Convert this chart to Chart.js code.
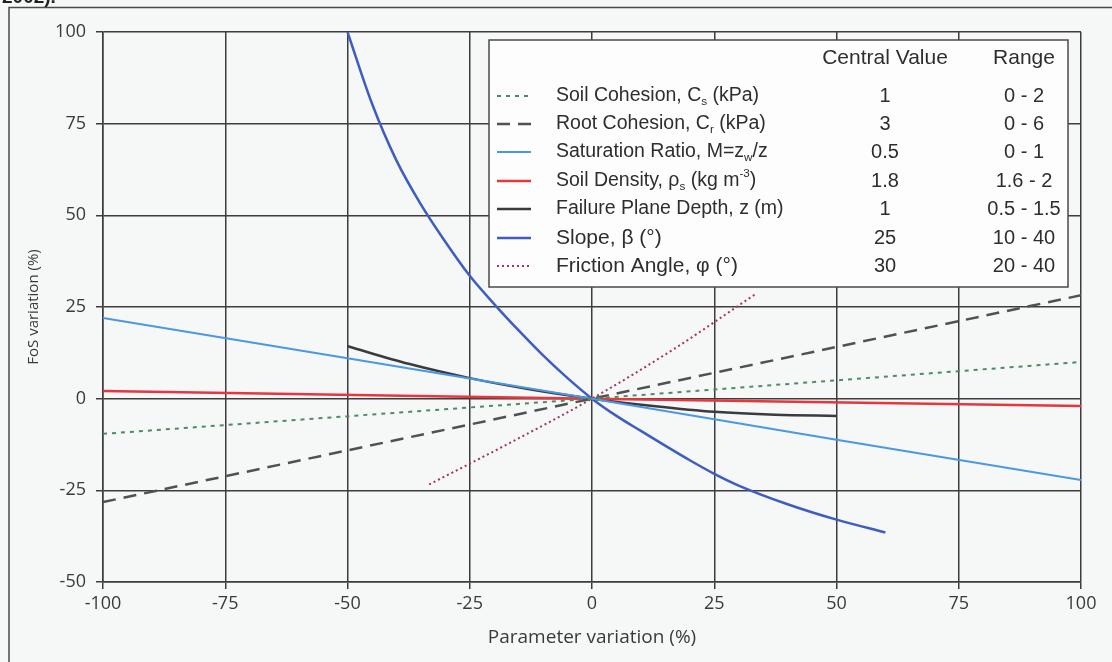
<!DOCTYPE html>
<html>
<head>
<meta charset="utf-8">
<script src="https://cdn.jsdelivr.net/npm/chart.js@4.4.1/dist/chart.umd.min.js"></script>
<style>
  html, body { margin: 0; padding: 0; background: #f6f7f7; }
  #wrap { width: 1112px; height: 662px; }
</style>
</head>
<body>
<div id="wrap"><canvas id="fos" width="1112" height="662"></canvas></div>
<script>
// axis ticks
const xTicks = [-100, -75, -50, -25, 0, 25, 50, 75, 100];
const yTicks = [-50, -25, 0, 25, 50, 75, 100];

// FoS variation (%) against parameter variation (%)
const soilCohesionX = [-100, 0, 100];
const soilCohesionY = [-9.6, 0, 10];

const rootCohesionX = [-100, 0, 100];
const rootCohesionY = [-28.2, 0, 28.2];

const saturationX = [-100, -50, 0, 50, 100];
const saturationY = [22, 11, 0, -11.2, -22.2];

const densityX = [-100, 0, 100];
const densityY = [2.1, 0, -2];

const depthX = [-50, -37.5, -25, -12.5, 0, 12.5, 25, 37.5, 50];
const depthY = [14.3, 9.5, 5.6, 2.5, 0, -2.0, -3.6, -4.4, -4.7];

const slopeX = [-50, -45, -40, -35, -30, -25, -20, -15, -10, -5, 0, 5, 10, 20, 25, 30, 40, 50, 60];
const slopeY = [100, 80.5, 65, 53, 42.8, 33.5, 25.8, 18.6, 11.8, 5.6, 0, -4.7, -8.8, -16.8, -20.5, -23.7, -28.8, -33, -36.5];

const frictionX = [-33.3, -16.7, 0, 16.7, 33.3];
const frictionY = [-23.4, -12.0, 0, 13.5, 28.4];

// legend table
const legendHeader = ['Central Value', 'Range'];
const paramNames = [
  'Soil Cohesion, C_{s} (kPa)',
  'Root Cohesion, C_{r} (kPa)',
  'Saturation Ratio, M=z_{w}/z',
  'Soil Density, ρ_{s} (kg m^{-3})',
  'Failure Plane Depth, z (m)',
  'Slope, β (°)',
  'Friction Angle, φ (°)'
];
const centralValues = ['1', '3', '0.5', '1.8', '1', '25', '30'];
const ranges = ['0 - 2', '0 - 6', '0 - 1', '1.6 - 2', '0.5 - 1.5', '10 - 40', '20 - 40'];

const pts = (xs, ys) => xs.map((x, i) => ({ x: x, y: ys[i] }));

const gridCol = '#3d3d3d';
const textCol = '#3a3a3a';
const tickFont = { family: "'Open Sans', sans-serif", size: 18 };

// draws a label with _{sub} and ^{sup} pieces
function drawRich(ctx, text, x, y, size, family) {
  const parts = text.split(/(_\{[^}]*\}|\^\{[^}]*\})/);
  let cx = x;
  parts.forEach(p => {
    if (!p) return;
    let s = size, dy = 0, t = p;
    if (p.startsWith('_{')) { t = p.slice(2, -1); s = size * 0.6; dy = size * 0.3; }
    else if (p.startsWith('^{')) { t = p.slice(2, -1); s = size * 0.6; dy = -size * 0.38; }
    ctx.font = s + 'px ' + family;
    ctx.fillText(t, cx, y + dy);
    cx += ctx.measureText(t).width;
  });
}

const pagePlugin = {
  id: 'page',
  beforeDraw(chart) {
    const ctx = chart.ctx;
    ctx.save();
    ctx.fillStyle = '#f6f7f7';
    ctx.fillRect(0, 0, chart.width, chart.height);
    // cut-off line of text above the figure frame
    ctx.fillStyle = '#222';
    ctx.font = "bold 19px 'Liberation Sans', Arial, sans-serif";
    ctx.textBaseline = 'alphabetic';
    ctx.fillText('2002).', 2, 3);
    // figure frame
    ctx.strokeStyle = '#4a4a4a';
    ctx.lineWidth = 1.5;
    ctx.beginPath();
    ctx.moveTo(9, chart.height + 2);
    ctx.lineTo(9, 7.5);
    ctx.lineTo(chart.width + 2, 7.5);
    ctx.stroke();
    ctx.restore();
  }
};

const tablePlugin = {
  id: 'paramTable',
  afterDatasetsDraw(chart) {
    const ctx = chart.ctx;
    const fam = "'Liberation Sans', Arial, sans-serif";
    const bx = 489, by = 40, bw = 579, bh = 247;
    ctx.save();
    ctx.fillStyle = '#fdfdfd';
    ctx.fillRect(bx, by, bw, bh);
    ctx.strokeStyle = '#4a4a4a';
    ctx.lineWidth = 1.5;
    ctx.strokeRect(bx, by, bw, bh);

    const colC = 885, colR = 1024;
    ctx.fillStyle = '#2e2e2e';
    ctx.textBaseline = 'middle';
    ctx.textAlign = 'center';
    ctx.font = '21px ' + fam;
    ctx.fillText(legendHeader[0], colC, 58);
    ctx.fillText(legendHeader[1], colR, 58);

    const rowY = [96, 124, 152, 181, 209, 238, 266];
    chart.data.datasets.forEach((ds, i) => {
      const y = rowY[i];
      ctx.save();
      ctx.strokeStyle = ds.borderColor;
      ctx.lineWidth = ds.borderWidth;
      ctx.setLineDash(ds.borderDash || []);
      ctx.beginPath();
      ctx.moveTo(497, y);
      ctx.lineTo(531, y);
      ctx.stroke();
      ctx.restore();

      ctx.fillStyle = '#2e2e2e';
      ctx.textAlign = 'left';
      drawRich(ctx, paramNames[i], 556, y, i < 5 ? 19.5 : 21, fam);
      ctx.textAlign = 'center';
      ctx.font = '20px ' + fam;
      ctx.fillText(centralValues[i], colC, y);
      ctx.fillText(ranges[i], colR, y);
    });
    ctx.restore();
  }
};

new Chart(document.getElementById('fos'), {
  type: 'line',
  data: {
    datasets: [
      { label: paramNames[0], data: pts(soilCohesionX, soilCohesionY), borderColor: '#4b8d63', borderWidth: 2, borderDash: [4, 5] },
      { label: paramNames[1], data: pts(rootCohesionX, rootCohesionY), borderColor: '#4d5352', borderWidth: 2.5, borderDash: [13, 8] },
      { label: paramNames[2], data: pts(saturationX, saturationY), borderColor: '#4b98e2', borderWidth: 2 },
      { label: paramNames[3], data: pts(densityX, densityY), borderColor: '#e6363f', borderWidth: 2.5 },
      { label: paramNames[4], data: pts(depthX, depthY), borderColor: '#3b3a3f', borderWidth: 2.5, cubicInterpolationMode: 'monotone' },
      { label: paramNames[5], data: pts(slopeX, slopeY), borderColor: '#3e5dc2', borderWidth: 2.5, cubicInterpolationMode: 'monotone' },
      { label: paramNames[6], data: pts(frictionX, frictionY), borderColor: '#a23461', borderWidth: 2, borderDash: [2, 3], cubicInterpolationMode: 'monotone' }
    ]
  },
  options: {
    responsive: false,
    animation: false,
    devicePixelRatio: 1,
    layout: { padding: { left: 0, right: 31, top: 32, bottom: 0 } },
    elements: { point: { radius: 0 }, line: { tension: 0 } },
    plugins: { legend: { display: false }, tooltip: { enabled: false } },
    scales: {
      x: {
        type: 'linear',
        min: -100,
        max: 100,
        afterBuildTicks: s => { s.ticks = xTicks.map(v => ({ value: v })); },
        afterFit: s => { s.height = 80; },
        grid: { color: gridCol, lineWidth: 1.5, tickLength: 7 },
        border: { color: gridCol, width: 1.5 },
        ticks: { font: tickFont, color: textCol, padding: 4, maxRotation: 0 },
        title: { display: true, text: 'Parameter variation (%)', color: textCol,
                 font: { family: "'Open Sans', sans-serif", size: 19 }, padding: { top: 0, bottom: 13 } }
      },
      y: {
        min: -50,
        max: 100,
        afterBuildTicks: s => { s.ticks = yTicks.map(v => ({ value: v })); },
        afterFit: s => { s.width = 103; },
        grid: { color: gridCol, lineWidth: 1.5, tickLength: 7 },
        border: { color: gridCol, width: 1.5 },
        ticks: { font: tickFont, color: textCol, padding: 10 },
        title: { display: true, text: 'FoS variation (%)', color: textCol,
                 font: { family: "'Open Sans', sans-serif", size: 15 }, padding: { top: 25, bottom: 0 } }
      }
    }
  },
  plugins: [pagePlugin, tablePlugin]
});
</script>
</body>
</html>
